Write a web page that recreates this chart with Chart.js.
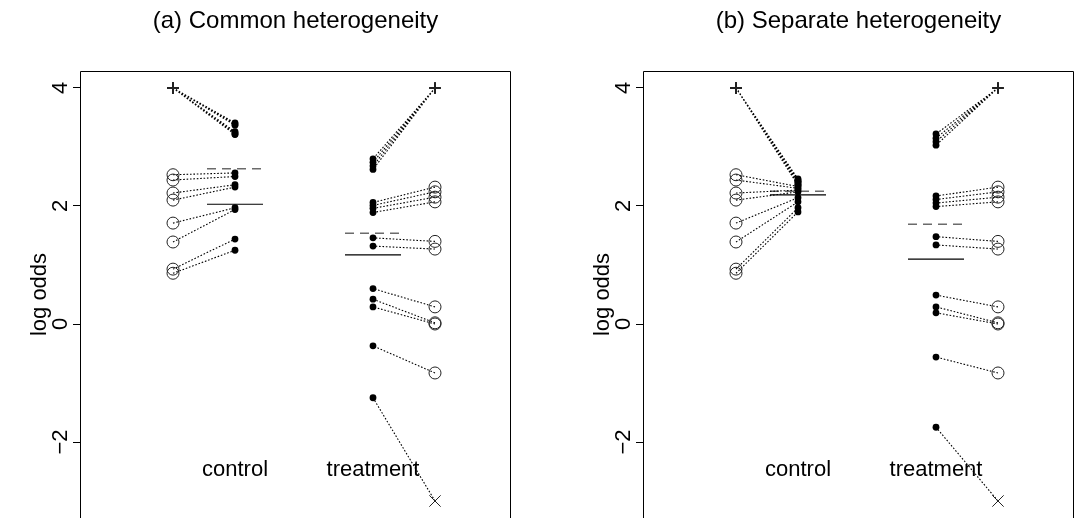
<!DOCTYPE html>
<html>
<head>
<meta charset="utf-8">
<script src="https://cdn.jsdelivr.net/npm/chart.js@4.4.1/dist/chart.umd.min.js"></script>
<style>
  html, body { margin: 0; padding: 0; background: #fff; overflow: hidden; }
  #wrap { position: relative; width: 1081px; height: 518px; }
  canvas { position: absolute; top: 0; }
  #chartA { left: 0; }
  #chartB { left: 563px; }
</style>
</head>
<body>
<div id="wrap">
  <canvas id="chartA" width="563" height="518"></canvas>
  <canvas id="chartB" width="518" height="518"></canvas>
</div>
<script>
// values (log odds); 4 = +inf, -3 = -inf
const groups = ['control', 'treatment'];
const yTicks = [-2, 0, 2, 4];

const controlRaw = [4, 4, 4, 4, 4, 4, 4, 2.53, 2.44, 2.22, 2.10, 1.71, 1.39, 0.93, 0.86];
const treatmentRaw = [4, 4, 4, 4, 2.32, 2.24, 2.15, 2.07, 1.40, 1.27, 0.29, 0.02, 0.00, -0.83, -3];

const controlCommon = [3.41, 3.39, 3.37, 3.26, 3.24, 3.22, 3.21, 2.56, 2.50, 2.36, 2.32, 1.97, 1.94, 1.44, 1.25];
const treatmentCommon = [2.80, 2.74, 2.68, 2.62, 2.06, 2.01, 1.96, 1.89, 1.46, 1.32, 0.60, 0.42, 0.29, -0.37, -1.25];

const controlSeparate = [2.46, 2.44, 2.42, 2.41, 2.39, 2.37, 2.35, 2.33, 2.30, 2.27, 2.24, 2.14, 2.07, 1.97, 1.90];
const treatmentSeparate = [3.22, 3.15, 3.09, 3.03, 2.17, 2.11, 2.05, 1.99, 1.48, 1.34, 0.49, 0.29, 0.19, -0.56, -1.75];

// [control, treatment]
const meanCommon = [2.03, 1.17];
const meanCommonDashed = [2.63, 1.54];
const meanSeparate = [2.19, 1.10];
const meanSeparateDashed = [2.25, 1.69];

// x layout: group centre 1 / 2, raw outside, shrunk inside
const OFF = 0.155;
const HALF = 0.14;
const labelY = -2.47;
const xRaw = [1 - OFF, 2 + OFF];
const xShr = [1 + OFF, 2 - OFF];

Chart.defaults.font.family = '"Liberation Sans", Arial, Helvetica, sans-serif';
Chart.defaults.color = '#000';

function links(raw, shrunk, g) {
  const pts = [];
  raw.forEach((r, i) => {
    pts.push({ x: xRaw[g], y: r }, { x: xShr[g], y: shrunk[i] }, { x: xShr[g], y: null });
  });
  return pts;
}

function meanSegs(means) {
  const pts = [];
  means.forEach((m, g) => {
    pts.push({ x: xShr[g] - HALF, y: m }, { x: xShr[g] + HALF, y: m }, { x: xShr[g], y: null });
  });
  return pts;
}

const framePlugin = {
  id: 'frame',
  afterDraw(chart) {
    const { ctx, chartArea: a, scales } = chart;
    ctx.save();
    ctx.strokeStyle = '#000';
    ctx.lineWidth = 1;
    const l = Math.round(a.left) + 0.5, t = Math.round(a.top) + 0.5, r = Math.round(a.right) - 0.5;
    ctx.beginPath();
    ctx.moveTo(l, a.bottom + 2);
    ctx.lineTo(l, t);
    ctx.lineTo(r, t);
    ctx.lineTo(r, a.bottom + 2);
    ctx.stroke();
    ctx.font = '22px "Liberation Sans", Arial, sans-serif';
    ctx.fillStyle = '#000';
    ctx.textAlign = 'center';
    ctx.textBaseline = 'middle';
    groups.forEach((name, g) => {
      ctx.fillText(name, scales.x.getPixelForValue(xShr[g]), scales.y.getPixelForValue(labelY));
    });
    ctx.restore();
  }
};

function rawStyle(c) {
  const v = c.raw && c.raw.y;
  if (v >= 4) return 'cross';
  if (v <= -3) return 'crossRot';
  return 'circle';
}

function makePanel(id, title, ctrl, treat, mean, meanDashed, padRight) {
  const rawPts = [
    ...controlRaw.map(v => ({ x: xRaw[0], y: v })),
    ...treatmentRaw.map(v => ({ x: xRaw[1], y: v }))
  ];
  const shrPts = [
    ...ctrl.map(v => ({ x: xShr[0], y: v })),
    ...treat.map(v => ({ x: xShr[1], y: v }))
  ];
  const dotted = { showLine: true, borderColor: '#000', borderWidth: 1.1, borderDash: [1.6, 1.8], pointRadius: 0, fill: false };

  return new Chart(document.getElementById(id), {
    type: 'scatter',
    data: {
      datasets: [
        {
          label: 'raw',
          data: rawPts,
          pointStyle: rawStyle,
          pointRadius: c => (rawStyle(c) === 'circle' ? 6 : rawStyle(c) === 'cross' ? 5.5 : 8),
          pointBorderWidth: c => (rawStyle(c) === 'cross' ? 1.8 : 1),
          pointBorderColor: '#222',
          pointBackgroundColor: 'rgba(0,0,0,0)'
        },
        {
          label: 'shrunk',
          data: shrPts,
          pointStyle: 'circle',
          pointRadius: 3.4,
          pointBorderWidth: 0,
          pointBackgroundColor: '#000'
        },
        { label: 'links control', data: links(controlRaw, ctrl, 0), ...dotted },
        { label: 'links treatment', data: links(treatmentRaw, treat, 1), ...dotted },
        { label: 'mean', data: meanSegs(mean), showLine: true, borderColor: '#000', borderWidth: 1.2, pointRadius: 0 },
        { label: 'mean dashed', data: meanSegs(meanDashed), showLine: true, borderColor: '#6b6b6b', borderWidth: 1.5, borderDash: [9, 6], pointRadius: 0 }
      ]
    },
    options: {
      responsive: false,
      animation: false,
      layout: { autoPadding: false, padding: { left: 0, right: padRight, top: 0, bottom: 0 } },
      scales: {
        x: { type: 'linear', min: 0.38, max: 2.535, display: false },
        y: {
          type: 'linear',
          min: -3.288,
          max: 4.288,
          afterBuildTicks: s => { s.ticks = yTicks.map(v => ({ value: v })); },
          afterFit: s => { s.width = 80; s.paddingTop = 0; s.paddingBottom = 0; },
          ticks: {
            minRotation: 90,
            maxRotation: 90,
            crossAlign: 'center',
            padding: 0,
            font: { size: 22 },
            callback: v => String(v).replace('-', '\u2212')
          },
          grid: { drawOnChartArea: false, drawTicks: true, tickLength: 7, color: '#000' },
          border: { display: false },
          title: { display: true, text: 'log odds', font: { size: 22 }, padding: { top: 27, bottom: 0 } }
        }
      },
      plugins: {
        legend: { display: false },
        tooltip: { enabled: false },
        title: {
          display: true,
          text: title,
          fullSize: false,
          font: { size: 24, weight: 'normal' },
          padding: { top: 7, bottom: 35.2 }
        }
      }
    },
    plugins: [framePlugin]
  });
}

makePanel('chartA', '(a) Common heterogeneity', controlCommon, treatmentCommon, meanCommon, meanCommonDashed, 52);
makePanel('chartB', '(b) Separate heterogeneity', controlSeparate, treatmentSeparate, meanSeparate, meanSeparateDashed, 7);
</script>
</body>
</html>
